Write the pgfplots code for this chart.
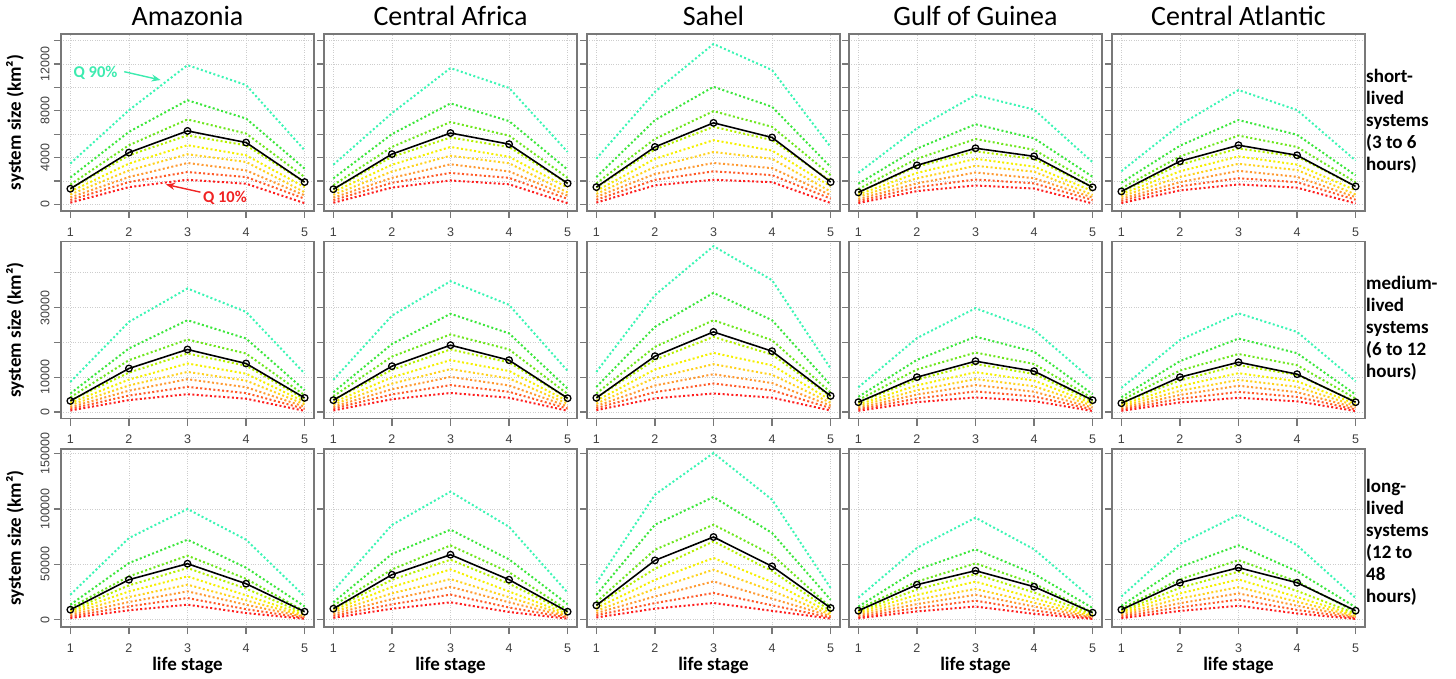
\documentclass[border=0pt]{standalone}
\usepackage{pgfplots}
\pgfplotsset{compat=1.18}
\usepackage{pgfplotstable}
\usepackage{fontspec}
\setmainfont{Carlito}
\newfontfamily\arialf{Liberation Sans}
\usetikzlibrary{arrows.meta}

\definecolor{c1}{HTML}{FF1E1E}
\definecolor{c2}{HTML}{FF5A28}
\definecolor{c3}{HTML}{FF9A32}
\definecolor{c4}{HTML}{FFD21E}
\definecolor{c5}{HTML}{F5F000}
\definecolor{c6}{HTML}{B4F000}
\definecolor{c7}{HTML}{6EE61E}
\definecolor{c8}{HTML}{3CE63C}
\definecolor{c9}{HTML}{3CF5B4}
\definecolor{axgray}{HTML}{787878}
\definecolor{gridgray}{HTML}{CDCDCD}
\definecolor{tickgray}{HTML}{404040}
\definecolor{q90txt}{HTML}{3CEBAF}
\definecolor{q10txt}{HTML}{F02323}

\newcommand{\tickf}{\arialf\fontsize{12.5}{12.5}\selectfont}
\newcommand{\labf}{\bfseries\fontsize{19}{22}\selectfont}
\newcommand{\titf}{\fontsize{28}{30}\selectfont}

% ---------------- data: x, Q10..Q90, mean ----------------
\pgfplotstableread{
x q1 q2 q3 q4 q5 q6 q7 q8 q9 m
1 150 380 600 850 1100 1350 1700 2300 3500 1340
2 1480 1910 2340 2900 3490 4200 5060 6200 8050 4430
3 2110 2770 3540 4290 5060 5900 7260 8900 11900 6280
4 1770 2340 2910 3630 4200 5050 6060 7340 10200 5290
5 110 490 770 1050 1480 1900 2340 3060 4630 1910
}\tAmS
\pgfplotstableread{
x q1 q2 q3 q4 q5 q6 q7 q8 q9 m
1 145 370 580 820 1070 1310 1650 2230 3400 1300
2 1440 1850 2270 2810 3390 4070 4910 6010 7800 4300
3 2050 2690 3430 4160 4910 5720 7040 8630 11650 6100
4 1720 2270 2820 3520 4070 4900 5880 7120 9950 5150
5 105 475 750 1020 1440 1800 2270 2970 4490 1800
}\tCaS
\pgfplotstableread{
x q1 q2 q3 q4 q5 q6 q7 q8 q9 m
1 160 400 650 900 1150 1450 1800 2340 3910 1480
2 1630 2100 2600 3200 3900 4700 5600 7200 9620 4910
3 2110 2830 3540 4480 5490 6630 7970 10050 13710 6970
4 1900 2500 3100 3900 4600 5500 6630 8340 11480 5720
5 120 500 800 1100 1550 2000 2500 3200 4910 1910
}\tSaS
\pgfplotstableread{
x q1 q2 q3 q4 q5 q6 q7 q8 q9 m
1 115 290 460 650 850 1040 1310 1770 2700 1030
2 1140 1470 1800 2230 2690 3230 3900 4770 6500 3340
3 1620 2130 2730 3300 3900 4540 5590 6850 9340 4800
4 1360 1800 2240 2800 3230 3890 4670 5650 8100 4110
5 85 380 590 810 1140 1460 1800 2360 3600 1460
}\tGgS
\pgfplotstableread{
x q1 q2 q3 q4 q5 q6 q7 q8 q9 m
1 120 310 490 690 890 1090 1380 1860 2840 1110
2 1200 1550 1900 2350 2830 3400 4100 5020 6800 3690
3 1710 2240 2870 3470 4100 4780 5880 7210 9770 5060
4 1430 1900 2360 2940 3400 4090 4910 5950 8060 4200
5 90 400 620 850 1200 1540 1900 2480 3750 1540
}\tCtS
\pgfplotstableread{
x q1 q2 q3 q4 q5 q6 q7 q8 q9 m
1 400 900 1400 2000 2600 3300 4200 5300 8630 3170
2 3400 4700 6100 7600 9300 11300 14880 18250 25900 12490
3 5090 7200 9410 11510 13930 16800 20830 26390 35510 17960
4 3800 5400 7100 9000 11000 13300 16800 21120 28780 13930
5 300 900 1500 2200 2900 3700 4800 6240 11050 4030
}\tAmM
\pgfplotstableread{
x q1 q2 q3 q4 q5 q6 q7 q8 q9 m
1 430 960 1500 2140 2780 3530 4490 5670 9230 3370
2 3640 5030 6530 8130 9950 12090 15920 19530 27700 13150
3 5450 7700 10070 12320 14900 17980 22290 28240 37600 19200
4 4070 5780 7600 9630 11770 14230 17980 22600 30800 14880
5 320 960 1600 2350 3100 3960 5140 6680 11800 3940
}\tCaM
\pgfplotstableread{
x q1 q2 q3 q4 q5 q6 q7 q8 q9 m
1 500 1100 1700 2400 3200 4100 5300 7200 11510 4030
2 3900 5700 7600 9800 12200 15000 18710 24460 33590 16030
3 5300 8170 10850 13730 16980 21590 26390 34250 47690 23020
4 4100 6200 8300 10700 13400 16500 20640 26390 37900 17470
5 400 1100 1800 2600 3400 4400 5600 7680 12490 4600
}\tSaM
\pgfplotstableread{
x q1 q2 q3 q4 q5 q6 q7 q8 q9 m
1 330 740 1150 1640 2130 2710 3440 4350 7080 2790
2 2790 3850 5000 6230 7630 9270 12200 14970 21240 9990
3 4170 5900 7720 9440 11420 13780 17080 21640 29840 14590
4 3120 4430 5820 7380 9020 10910 13780 17320 23600 11710
5 250 740 1230 1800 2380 3030 3940 5120 9060 3370
}\tGgM
\pgfplotstableread{
x q1 q2 q3 q4 q5 q6 q7 q8 q9 m
1 320 720 1120 1600 2080 2640 3360 4240 6900 2500
2 2720 3760 4880 6080 7440 9040 11900 14600 20700 9990
3 4070 5760 7530 9210 11140 13440 16660 21110 28380 14300
4 3040 4320 5680 7200 8800 10640 13440 16900 23020 10850
5 240 720 1200 1760 2320 2960 3840 4990 8840 2790
}\tCtM
\pgfplotstableread{
x q1 q2 q3 q4 q5 q6 q7 q8 q9 m
1 1500 3000 4500 6000 7500 8500 11000 13550 22590 9040
2 8500 12000 16000 20500 25500 31000 39130 51200 73800 36140
3 13550 19580 25600 31630 39130 46700 57830 72290 100000 50600
4 6000 9500 13500 17500 22000 28000 37000 47000 72290 32530
5 800 1600 2500 3400 4500 5800 7500 12050 21080 7230
}\tAmL
\pgfplotstableread{
x q1 q2 q3 q4 q5 q6 q7 q8 q9 m
1 1700 3500 5200 7000 8700 9900 12800 15700 26200 9940
2 9900 13900 18600 23800 29600 36000 45400 59400 85600 40660
3 15700 22700 29700 36700 45400 54200 67100 81320 115660 58730
4 7000 11000 15700 20300 25500 32500 42900 54500 83900 36140
5 900 1900 2900 3900 5200 6700 8700 14000 24500 7230
}\tCaL
\pgfplotstableread{
x q1 q2 q3 q4 q5 q6 q7 q8 q9 m
1 2000 4000 6000 8000 10500 13000 16000 22590 33160 12920
2 10000 15000 21000 28000 36000 46000 63250 85840 112950 53590
3 15090 24130 34610 45180 55750 70750 85840 110870 150600 74720
4 8000 13000 19000 26000 34000 44000 58730 78340 108430 48170
5 1000 2000 3200 4500 6000 8000 11000 18070 28640 10570
}\tSaL
\pgfplotstableread{
x q1 q2 q3 q4 q5 q6 q7 q8 q9 m
1 1300 2600 4000 5300 6600 7500 9700 11900 19900 8130
2 7500 10600 14100 18000 22400 27300 34400 45100 64900 31630
3 11900 17200 22500 27800 34400 41100 50900 63600 92170 44280
4 5300 8400 11900 15400 19400 24600 32600 41400 63600 29820
5 700 1400 2200 3000 4000 5100 6600 10600 18600 6330
}\tGgL
\pgfplotstableread{
x q1 q2 q3 q4 q5 q6 q7 q8 q9 m
1 1400 2800 4200 5600 7000 7900 10200 12600 21000 9040
2 7900 11200 14900 19100 23700 28800 36400 47600 68600 33430
3 12600 18200 23800 29400 36400 43400 53800 67200 94880 46990
4 5600 8800 12600 16300 20500 26000 34400 43700 67200 33430
5 700 1500 2300 3200 4200 5400 7000 11200 19600 8130
}\tCtL

\pgfplotsset{
  base/.style={
    scale only axis, width=253pt,
    xmin=0.84, xmax=5.16, xtick={1,2,3,4,5},
    xtick pos=bottom, ytick pos=left, tick align=outside,
    major tick length=7pt,
    axis line style={draw=axgray, line width=1.6pt},
    tick style={draw=axgray, line width=1.2pt},
    grid=major,
    major grid style={draw=gridgray, dotted, line width=0.8pt},
    ticklabel style={font=\tickf, text=tickgray},
    xticklabel shift=6pt,
    yticklabel style={rotate=90, anchor=south},
    yticklabel shift=1pt,
    scaled y ticks=false,
    /pgf/number format/assume math mode=true,
    every axis y label/.style={at={(axis description cs:-0.1818,0.5)}, rotate=90, anchor=center, font=\labf},
    every axis x label/.style={at={(axis description cs:0.5,-0.2135)}, anchor=center, font=\labf},
  },
  r1/.style={height=177pt, ymin=-560, ymax=14560, ytick={0,2000,...,14000}},
  r2/.style={height=177pt, ymin=-1900, ymax=49035, ytick={0,10000,...,40000}},
  r3/.style={height=178pt, ymin=-6600, ymax=154240, ytick={0,50000,100000,150000}},
  nolab/.style={yticklabels={}},
  ql/.style={line width=2pt, dash pattern=on 2pt off 2.4pt, mark=none},
  ml/.style={black, line width=1.6pt, mark=o, mark size=3.3pt, mark options={solid, line width=1.3pt}},
}

\newcommand{\drawq}[1]{%
  \addplot[ql,c9] table[x=x,y=q9]{#1};
  \addplot[ql,c8] table[x=x,y=q8]{#1};
  \addplot[ql,c7] table[x=x,y=q7]{#1};
  \addplot[ql,c6] table[x=x,y=q6]{#1};
  \addplot[ql,c5] table[x=x,y=q5]{#1};
  \addplot[ql,c4] table[x=x,y=q4]{#1};
  \addplot[ql,c3] table[x=x,y=q3]{#1};
  \addplot[ql,c2] table[x=x,y=q2]{#1};
  \addplot[ql,c1] table[x=x,y=q1]{#1};
  \addplot[ml] table[x=x,y=m]{#1};
}
\newcommand{\panel}[4]{%
  \begin{axis}[base, at={(#1pt,-#2pt)}, anchor=north west, #3]
  \drawq{#4}
  \end{axis}}

\begin{document}
\begin{tikzpicture}
\useasboundingbox (0pt,0pt) rectangle (1456pt,-679pt);

% titles
\node[font=\titf, anchor=base] at (187.5pt,-26pt) {Amazonia};
\node[font=\titf, anchor=base] at (450.5pt,-26pt) {Central Africa};
\node[font=\titf, anchor=base] at (713.5pt,-26pt) {Sahel};
\node[font=\titf, anchor=base] at (975.5pt,-26pt) {Gulf of Guinea};
\node[font=\titf, anchor=base] at (1238.5pt,-26pt) {Central Atlantic};

% row 1
\begin{axis}[base, at={(61pt,-34pt)}, anchor=north west, r1,
  yticklabels={0,,4000,,8000,,12000,}, ylabel={system size (km²)}, clip=false]
  \drawq{\tAmS}
  \node[font=\bfseries\fontsize{16.5}{16.5}\selectfont, text=q90txt] at (axis cs:1.43,11270) {Q 90\%};
  \draw[-{Stealth[length=9pt,width=7pt]}, q90txt, line width=1.4pt] (axis cs:1.92,11340) -- (axis cs:2.54,10630);
  \node[font=\bfseries\fontsize{16.5}{16.5}\selectfont, text=q10txt] at (axis cs:3.64,560) {Q 10\%};
  \draw[-{Stealth[length=9pt,width=7pt]}, q10txt, line width=1.4pt] (axis cs:3.22,1050) -- (axis cs:2.63,1710);
\end{axis}
\panel{324}{34}{r1,nolab}{\tCaS}
\panel{587}{34}{r1,nolab}{\tSaS}
\panel{849}{34}{r1,nolab}{\tGgS}
\panel{1112}{34}{r1,nolab}{\tCtS}

% row 2
\panel{61}{241.5}{r2, yticklabels={0,10000,,30000,}, ylabel={system size (km²)}}{\tAmM}
\panel{324}{241.5}{r2,nolab}{\tCaM}
\panel{587}{241.5}{r2,nolab}{\tSaM}
\panel{849}{241.5}{r2,nolab}{\tGgM}
\panel{1112}{241.5}{r2,nolab}{\tCtM}

% row 3
\panel{61}{449}{r3, yticklabels={0,50000,100000,150000}, ylabel={system size (km²)}, xlabel={life stage}}{\tAmL}
\panel{324}{449}{r3,nolab, xlabel={life stage}}{\tCaL}
\panel{587}{449}{r3,nolab, xlabel={life stage}}{\tSaL}
\panel{849}{449}{r3,nolab, xlabel={life stage}}{\tGgL}
\panel{1112}{449}{r3,nolab, xlabel={life stage}}{\tCtL}

% row descriptions
\node[font=\labf, anchor=west, align=left, inner sep=0pt] at (1366pt,-121pt) {short-\\lived\\systems\\(3 to 6\\hours)};
\node[font=\labf, anchor=west, align=left, inner sep=0pt] at (1366pt,-328pt) {medium-\\lived\\systems\\(6 to 12\\hours)};
\node[font=\labf, anchor=west, align=left, inner sep=0pt] at (1366pt,-542pt) {long-\\lived\\systems\\(12 to\\48\\hours)};
\end{tikzpicture}
\end{document}
